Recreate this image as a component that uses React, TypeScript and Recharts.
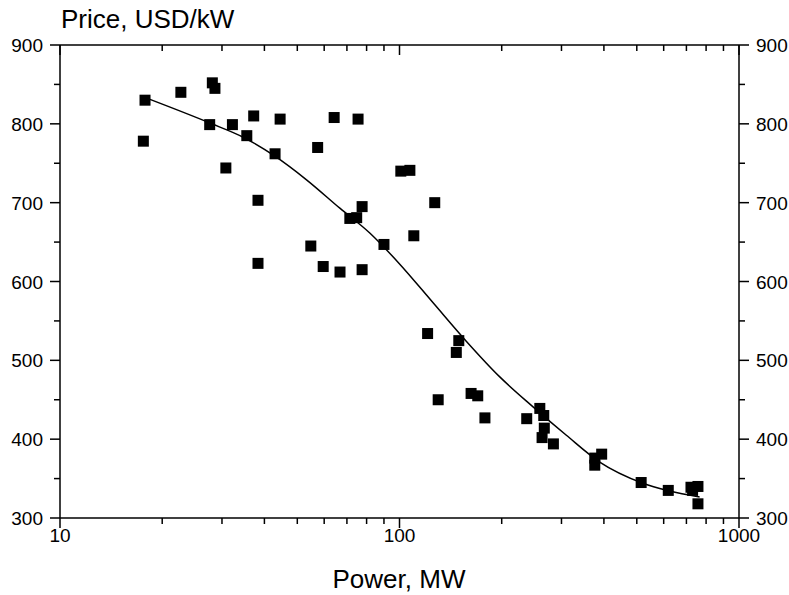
import React from "react"
import { ComposedChart, Scatter, Line, XAxis, YAxis } from "recharts"

// measured points (power in MW, price in USD/kW)
const powerMW = [
  17.8, 17.6, 22.7, 28.1, 28.6, 27.6, 30.8, 32.2, 35.5, 37.2, 38.3, 38.3, 43.0, 44.5,
  57.4, 54.8, 59.6, 66.8, 64.2, 75.5, 71.4, 74.8, 77.6, 77.6, 90.0, 100.9, 107.3, 127,
  110.2, 121, 149.5, 147, 130, 162.5, 170, 178.5, 237, 259, 266, 267, 263, 284, 376,
  376, 394, 515, 619, 722, 757, 757, 730,
]
const priceUSD = [
  830, 778, 840, 852, 845, 799, 744, 799, 785, 810, 703, 623, 762, 806,
  770, 645, 619, 612, 808, 806, 680, 681, 695, 615, 647, 740, 741, 700,
  658, 534, 525, 510, 450, 458, 455, 427, 426, 439, 430, 414, 402, 394, 376,
  367, 381, 345, 335, 339, 340, 318, 335,
]

// fitted curve
const fitPower = [18.4, 27.65, 34.65, 42.96, 53.23, 66.73, 81.74, 100.2, 125.6, 157.5, 197.4, 247.4, 310.1, 388.8, 521.3, 765.6]
const fitPrice = [831, 801, 783, 759, 729, 693, 661.5, 622, 573, 524, 479, 441, 405, 371, 344, 326.6]

const xTicks = [10, 20, 30, 40, 50, 60, 70, 80, 90, 100, 200, 300, 400, 500, 600, 700, 800, 900, 1000]
const yTicks = [300, 350, 400, 450, 500, 550, 600, 650, 700, 750, 800, 850, 900]

const points = powerMW.map((p, i) => ({ x: p, y: priceUSD[i] }))
const curve = fitPower.map((p, i) => ({ x: p, y: fitPrice[i] }))

const font = "'Liberation Sans', Arial, sans-serif"

const isMajorX = (v: number) => v === 10 || v === 100 || v === 1000
const isMajorY = (v: number) => v % 100 === 0

function AxisTick(props: any) {
  const { x, y, payload, side } = props
  const v = payload.value
  const major = side === "bottom" || side === "top" ? isMajorX(v) : isMajorY(v)
  const len = major ? 10 : 6
  const line = { stroke: "#000", strokeWidth: 1.5 }
  if (side === "bottom") {
    return (
      <g>
        <line x1={x} y1={y} x2={x} y2={y + len} {...line} />
        {major && (
          <text x={x} y={y + 24} textAnchor="middle" fontSize={19} fontFamily={font} fill="#000">
            {v}
          </text>
        )}
      </g>
    )
  }
  if (side === "top") {
    return <line x1={x} y1={y} x2={x} y2={y + len} {...line} />
  }
  if (side === "left") {
    return (
      <g>
        <line x1={x} y1={y} x2={x - len} y2={y} {...line} />
        {major && (
          <text x={x - 17} y={y + 7} textAnchor="end" fontSize={19} fontFamily={font} fill="#000">
            {v}
          </text>
        )}
      </g>
    )
  }
  return (
    <g>
      <line x1={x} y1={y} x2={x + len} y2={y} {...line} />
      {major && (
        <text x={x + 17} y={y + 7} textAnchor="start" fontSize={19} fontFamily={font} fill="#000">
          {v}
        </text>
      )}
    </g>
  )
}

const SquareDot = (props: any) => {
  const { cx, cy } = props
  if (cx == null || cy == null) return null
  return <rect x={cx - 5.5} y={cy - 5.5} width={11} height={11} fill="#000" />
}

const axisLine = { stroke: "#000", strokeWidth: 1.5 }

export default function App() {
  return (
    <div style={{ position: "absolute", left: 0, top: 0, width: 789, height: 595, background: "#fff" }}>
      <ComposedChart width={789} height={595} margin={{ top: 44, right: 49, bottom: 76, left: 59 }}>
        <XAxis
          xAxisId="bottom"
          type="number"
          dataKey="x"
          scale="log"
          domain={[10, 1000]}
          allowDataOverflow
          ticks={xTicks}
          interval={0}
          height={1}
          tickSize={0}
          tickMargin={0}
          tickLine={false}
          axisLine={axisLine}
          tick={<AxisTick side="bottom" />}
        />
        <XAxis
          xAxisId="top"
          orientation="top"
          type="number"
          dataKey="x"
          scale="log"
          domain={[10, 1000]}
          allowDataOverflow
          ticks={xTicks}
          interval={0}
          height={1}
          tickSize={0}
          tickMargin={0}
          tickLine={false}
          axisLine={axisLine}
          tick={<AxisTick side="top" />}
        />
        <YAxis
          yAxisId="left"
          type="number"
          dataKey="y"
          domain={[300, 900]}
          allowDataOverflow
          ticks={yTicks}
          interval={0}
          width={1}
          tickSize={0}
          tickMargin={0}
          tickLine={false}
          axisLine={axisLine}
          tick={<AxisTick side="left" />}
        />
        <YAxis
          yAxisId="right"
          orientation="right"
          type="number"
          dataKey="y"
          domain={[300, 900]}
          allowDataOverflow
          ticks={yTicks}
          interval={0}
          width={1}
          tickSize={0}
          tickMargin={0}
          tickLine={false}
          axisLine={axisLine}
          tick={<AxisTick side="right" />}
        />
        <Line
          xAxisId="bottom"
          yAxisId="left"
          data={curve}
          dataKey="y"
          type="monotone"
          stroke="#000"
          strokeWidth={1.5}
          dot={false}
          activeDot={false}
          isAnimationActive={false}
        />
        <Scatter
          xAxisId="bottom"
          yAxisId="left"
          data={points}
          dataKey="y"
          shape={<SquareDot />}
          isAnimationActive={false}
        />
        <text x={61} y={28} fontSize={26} fontFamily={font} fill="#000">
          Price, USD/kW
        </text>
        <text x={399} y={588} textAnchor="middle" fontSize={26} fontFamily={font} fill="#000">
          Power, MW
        </text>
      </ComposedChart>
    </div>
  )
}
